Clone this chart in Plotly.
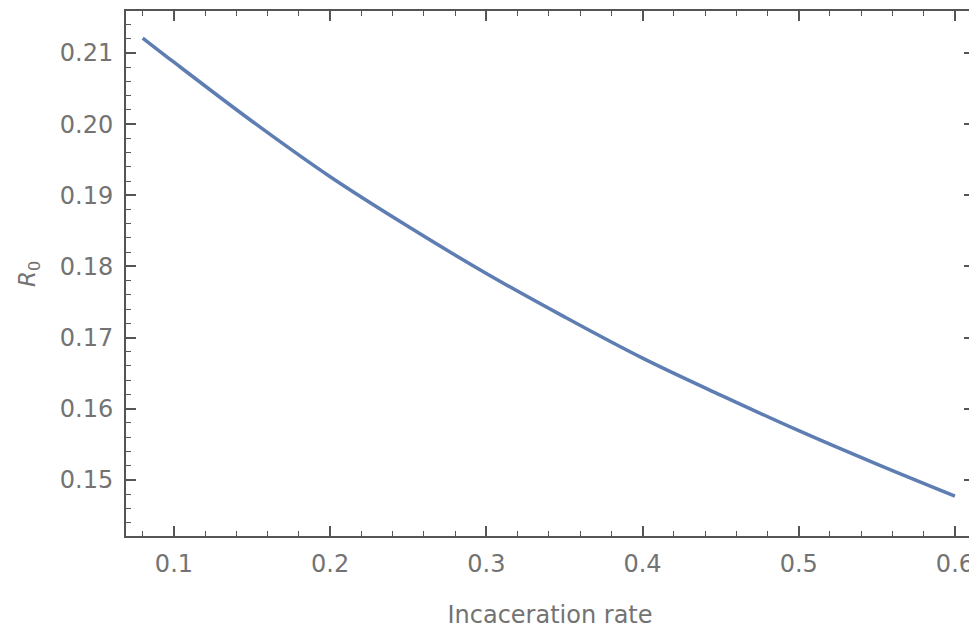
import plotly.graph_objects as go

# Data
incarceration_rate = [0.08, 0.10, 0.15, 0.20, 0.25, 0.30, 0.35, 0.40, 0.45, 0.50, 0.55, 0.60]
r0_values = [0.2121, 0.2087, 0.2004, 0.1926, 0.1856, 0.1790, 0.1729, 0.1671, 0.1619, 0.1569, 0.1522, 0.1477]

x_tickvals = [0.1, 0.2, 0.3, 0.4, 0.5, 0.6]
x_ticktext = ["0.1", "0.2", "0.3", "0.4", "0.5", "0.6"]
y_tickvals = [0.15, 0.16, 0.17, 0.18, 0.19, 0.20, 0.21]
y_ticktext = ["0.15", "0.16", "0.17", "0.18", "0.19", "0.20", "0.21"]

FRAME = "#555555"
LABEL = "#737373"
FONT = "DejaVu Sans, Verdana, sans-serif"

fig = go.Figure()
fig.add_trace(go.Scatter(
    x=incarceration_rate, y=r0_values, mode="lines",
    line=dict(color="#5E7DB2", width=3.5, shape="spline", smoothing=1.0),
    showlegend=False, hoverinfo="skip",
))

axis_common = dict(
    showline=True, linecolor=FRAME, linewidth=2, mirror="allticks",
    ticks="inside", ticklen=10, tickwidth=1.5, tickcolor=FRAME,
    showgrid=False, zeroline=False, automargin=False,
    tickfont=dict(family=FONT, size=24, color=LABEL),
)

fig.update_xaxes(
    **axis_common,
    range=[0.0693, 0.6122],
    tickmode="array", tickvals=x_tickvals, ticktext=x_ticktext,
    minor=dict(dtick=0.02, tick0=0.0, ticks="inside", ticklen=5, tickwidth=1.3, tickcolor=FRAME, showgrid=False),
    ticklabelstandoff=5,
    title=dict(text="Incaceration rate", font=dict(family=FONT, size=24, color=LABEL), standoff=29),
)
fig.update_yaxes(
    **axis_common,
    range=[0.1421, 0.2159],
    tickmode="array", tickvals=y_tickvals, ticktext=y_ticktext,
    minor=dict(dtick=0.002, tick0=0.0, ticks="inside", ticklen=5, tickwidth=1.3, tickcolor=FRAME, showgrid=False),
    ticklabelstandoff=6,
)

fig.add_annotation(
    text="<i>R</i><sub>0</sub>", xref="paper", yref="paper",
    x=-0.115, y=0.5, xanchor="center", yanchor="middle",
    textangle=-90, showarrow=False,
    font=dict(family=FONT, size=23, color=LABEL),
)

# the page body has an 8px default margin, so the figure is sized to fit inside it
fig.update_layout(
    width=969, height=622,
    margin=dict(l=118, r=3, t=3, b=94),
    paper_bgcolor="white", plot_bgcolor="white",
)

fig.write_html("out.html")
